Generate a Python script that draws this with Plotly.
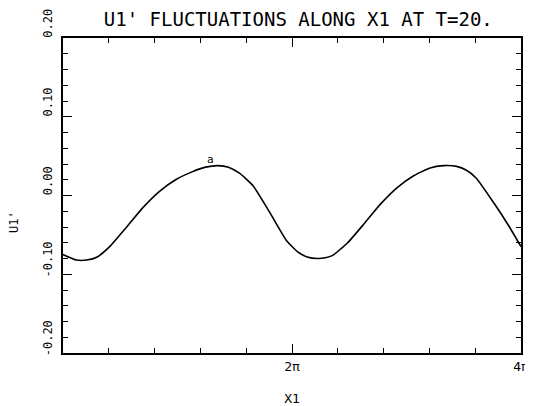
import math
import plotly.graph_objects as go

# Data (x in radians, 0..4π)
x1 = [0.0, 0.37, 0.65, 0.94, 1.28, 1.73, 2.18, 2.64, 3.09, 3.54, 3.91, 4.25,
      4.54, 4.85, 5.22, 5.68, 6.13, 6.45, 6.7, 6.99, 7.2, 7.40, 7.81, 8.26, 8.71,
      9.17, 9.62, 10.07, 10.44, 10.80, 11.07, 11.34, 11.80, 12.25, 12.566]
u1 = [-0.075, -0.082, -0.082, -0.078, -0.065, -0.041, -0.016, 0.005, 0.020,
      0.030, 0.036, 0.038, 0.036, 0.028, 0.012, -0.022, -0.057, -0.072, -0.078,
      -0.080, -0.079, -0.076, -0.060, -0.036, -0.011, 0.010, 0.025, 0.035, 0.038,
      0.037, 0.032, 0.022, -0.008, -0.040, -0.065]

x_tickvals = [2 * math.pi, 4 * math.pi]
x_ticktext = ["2π", "4π"]
y_tickvals = [-0.20, -0.10, 0.00, 0.10, 0.20]
y_ticktext = ["-0.20", "-0.10", "0.00", "0.10", "0.20"]
curve_label = "a"
curve_label_x = 4.05
curve_label_y = 0.046

FONT = "DejaVu Sans Mono"
X_RANGE = [0, 4 * math.pi]
Y_RANGE = [-0.20, 0.20]

fig = go.Figure()
fig.add_trace(go.Scatter(x=x1, y=u1, mode="lines",
                         line=dict(color="black", width=1.6, shape="spline", smoothing=0.5),
                         showlegend=False, hoverinfo="skip"))
# invisible traces to create the mirrored top / right frame axes
fig.add_trace(go.Scatter(x=[x1[0]], y=[u1[0]], xaxis="x2", yaxis="y", mode="lines",
                         line=dict(width=0), showlegend=False, hoverinfo="skip"))
fig.add_trace(go.Scatter(x=[x1[0]], y=[u1[0]], xaxis="x", yaxis="y2", mode="lines",
                         line=dict(width=0), showlegend=False, hoverinfo="skip"))

fig.add_annotation(x=curve_label_x, y=curve_label_y, text=curve_label, showarrow=False,
                   font=dict(family=FONT, size=11, color="black"))
fig.add_annotation(xref="paper", yref="paper", x=-0.107, y=0.416, text="U1'",
                   textangle=-90, showarrow=False, xanchor="center", yanchor="middle",
                   font=dict(family=FONT, size=12, color="black"))

# page body has an 8px margin, so the figure is sized/offset to compensate
fig.update_layout(
    width=525, height=398,
    margin=dict(l=55, r=12, t=30, b=53, autoexpand=False),
    paper_bgcolor="white", plot_bgcolor="white",
    font=dict(family=FONT, color="black"),
    title=dict(text="U1' FLUCTUATIONS ALONG X1 AT T=20.", x=0.553, xanchor="center",
               y=0.971, yanchor="middle", font=dict(family=FONT, size=19, color="black")),
)

common_x = dict(range=X_RANGE, showgrid=False, zeroline=False, automargin=False,
                showline=True, linecolor="black", linewidth=2,
                ticks="inside", ticklen=9, tickwidth=1.2, tickcolor="black",
                tickmode="array", tickvals=x_tickvals,
                minor=dict(tickmode="linear", tick0=0, dtick=0.4 * math.pi, ticks="inside",
                           ticklen=5, tickwidth=1, tickcolor="black", showgrid=False))
common_y = dict(range=Y_RANGE, showgrid=False, zeroline=False, automargin=False,
                showline=True, linecolor="black", linewidth=2,
                ticks="inside", ticklen=9, tickwidth=1.2, tickcolor="black",
                tickmode="array", tickvals=y_tickvals,
                minor=dict(tickmode="linear", tick0=0, dtick=0.02, ticks="inside",
                           ticklen=5, tickwidth=1, tickcolor="black", showgrid=False))

fig.update_layout(
    xaxis=dict(**common_x, ticktext=x_ticktext, mirror=True,
               tickfont=dict(family=FONT, size=13),
               title=dict(text="X1", font=dict(family=FONT, size=13), standoff=23)),
    yaxis=dict(**common_y, ticktext=y_ticktext, mirror=True,
               tickangle=-90, ticklabelshift=-13, ticklabelstandoff=4,
               tickfont=dict(family=FONT, size=12)),
    xaxis2=dict(**common_x, overlaying="x", side="top", anchor="y",
                showticklabels=False, layer="above traces"),
    yaxis2=dict(**common_y, overlaying="y", side="right", anchor="x",
                showticklabels=False),
)

fig.write_html("out.html")
